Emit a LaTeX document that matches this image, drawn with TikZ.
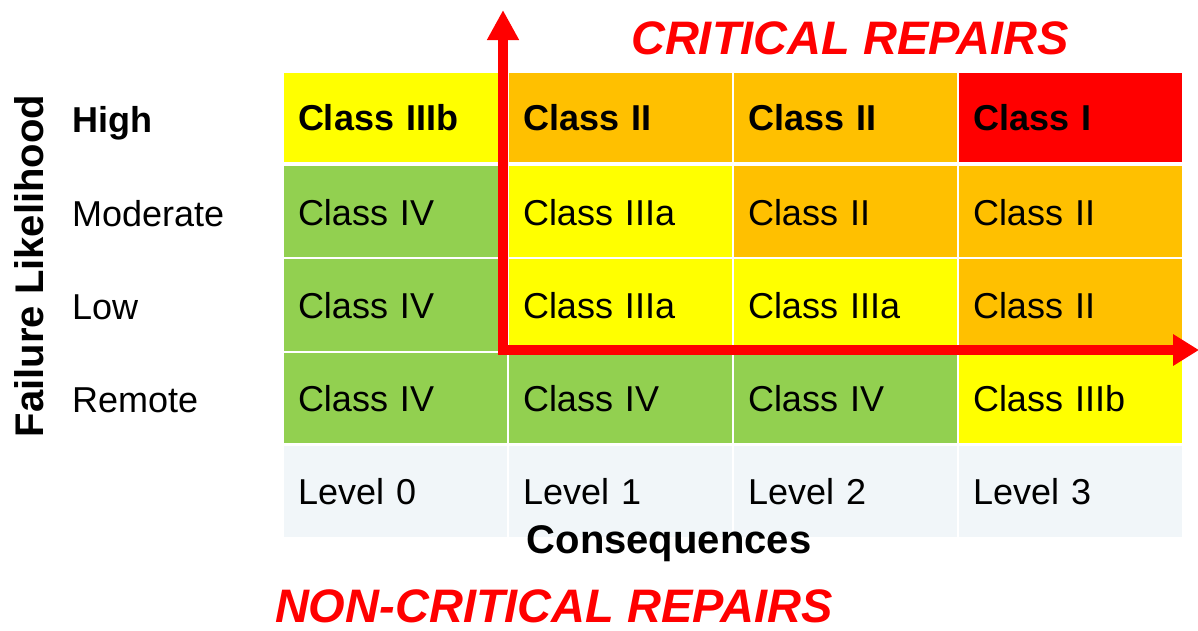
\documentclass[tikz,border=0pt]{standalone}
\usepackage{fontspec}
\setmainfont{Liberation Sans}
\usetikzlibrary{arrows.meta}
\definecolor{cyel}{HTML}{FFFF00}
\definecolor{corg}{HTML}{FFC000}
\definecolor{cred}{HTML}{FF0000}
\definecolor{cgrn}{HTML}{92D050}
\definecolor{clev}{HTML}{F1F6F9}
\tikzset{
  cell/.style={draw=white, line width=2pt, minimum width=225pt, inner xsep=15pt, inner ysep=0pt,
    text width=195pt, align=left, font=\fontsize{36}{36}\selectfont, text height=26pt, text depth=0pt},
  bcell/.style={cell, font=\fontsize{36}{36}\selectfont\bfseries},
  rowlab/.style={anchor=west, inner sep=0pt, font=\fontsize{36}{36}\selectfont, text height=26pt, text depth=0pt},
  bigred/.style={text=cred, font=\fontsize{47}{47}\selectfont\bfseries\itshape, inner sep=0pt, text height=34pt, text depth=0pt},
}
\begin{document}
\begin{tikzpicture}[x=1pt,y=-1pt]
\useasboundingbox (0,0) rectangle (1198,630);
% row 1
\node[bcell, fill=cyel, minimum height=91pt] (c11) at (395.5,117.5) {Class IIIb};
\node[bcell, fill=corg, minimum height=91pt] (c12) at (620.5,117.5) {Class II};
\node[bcell, fill=corg, minimum height=91pt] (c13) at (845.5,117.5) {Class II};
\node[bcell, fill=cred, minimum height=91pt] (c14) at (1070.5,117.5) {Class I};
% row 2
\node[cell, fill=cgrn, minimum height=94pt] (c21) at (395.5,212) {Class IV};
\node[cell, fill=cyel, minimum height=94pt] (c22) at (620.5,212) {Class IIIa};
\node[cell, fill=corg, minimum height=94pt] (c23) at (845.5,212) {Class II};
\node[cell, fill=corg, minimum height=94pt] (c24) at (1070.5,212) {Class II};
% row 3
\node[cell, fill=cgrn, minimum height=94pt] (c31) at (395.5,305) {Class IV};
\node[cell, fill=cyel, minimum height=94pt] (c32) at (620.5,305) {Class IIIa};
\node[cell, fill=cyel, minimum height=94pt] (c33) at (845.5,305) {Class IIIa};
\node[cell, fill=corg, minimum height=94pt] (c34) at (1070.5,305) {Class II};
% row 4
\node[cell, fill=cgrn, minimum height=92pt] (c41) at (395.5,398) {Class IV};
\node[cell, fill=cgrn, minimum height=92pt] (c42) at (620.5,398) {Class IV};
\node[cell, fill=cgrn, minimum height=92pt] (c43) at (845.5,398) {Class IV};
\node[cell, fill=cyel, minimum height=92pt] (c44) at (1070.5,398) {Class IIIb};
% row 5
\node[cell, fill=clev, minimum height=93pt] (c51) at (395.5,491) {Level 0};
\node[cell, fill=clev, minimum height=93pt] (c52) at (620.5,491) {Level 1};
\node[cell, fill=clev, minimum height=93pt] (c53) at (845.5,491) {Level 2};
\node[cell, fill=clev, minimum height=93pt] (c54) at (1070.5,491) {Level 3};
% row labels
\node[rowlab, font=\fontsize{36}{36}\selectfont\bfseries] (lh) at (72,119) {High};
\node[rowlab] (lm) at (72,213) {Moderate};
\node[rowlab] (ll) at (72,306) {Low};
\node[rowlab] (lr) at (72,399) {Remote};
% axis titles
\node[rotate=90, inner sep=0pt, font=\fontsize{40}{40}\selectfont\bfseries, text height=29pt, text depth=0pt] (fl) at (29,266) {Failure Likelihood};
\node[inner sep=0pt, font=\fontsize{40}{40}\selectfont\bfseries, text height=29pt, text depth=0pt] (cq) at (669,539) {Consequences};
% big labels
\node[bigred] (crit) at (850,37) {CRITICAL REPAIRS};
\node[bigred] (noncrit) at (554,605) {NON-CRITICAL REPAIRS};
% arrows
\coordinate (atop) at (503,10);
\coordinate (acorner) at (503,350);
\coordinate (aright) at (1199,350);
\draw[cred, line width=10pt, line join=miter,
  {Triangle[width=30pt,length=30pt]}-{Triangle[width=30pt,length=26pt]}]
  (atop) -- (acorner) -- (aright);
\end{tikzpicture}
\end{document}
